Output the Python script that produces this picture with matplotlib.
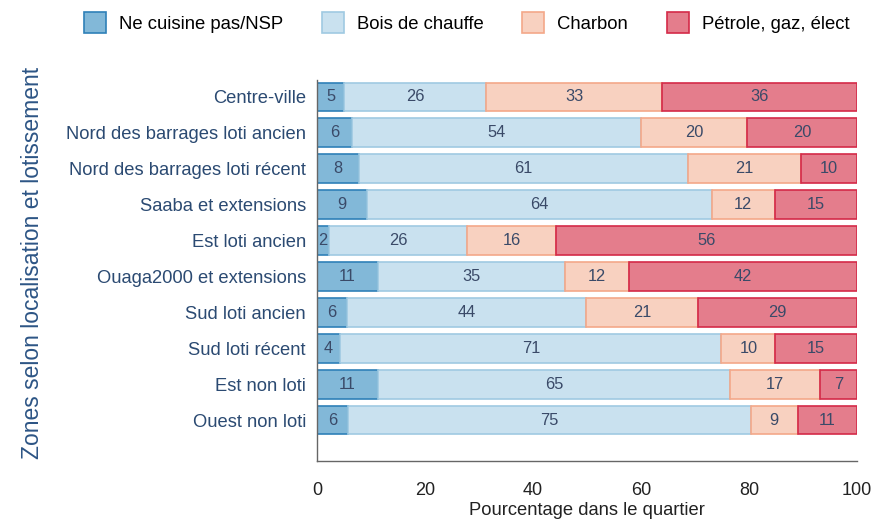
import matplotlib
matplotlib.use("Agg")
import matplotlib.pyplot as plt
import numpy as np
from matplotlib.patches import Patch

plt.rcParams['font.family'] = ['Liberation Sans', 'DejaVu Sans']

zones = ["Centre-ville", "Nord des barrages loti ancien", "Nord des barrages loti récent",
         "Saaba et extensions", "Est loti ancien", "Ouaga2000 et extensions",
         "Sud loti ancien", "Sud loti récent", "Est non loti", "Ouest non loti"]
series_names = ["Ne cuisine pas/NSP", "Bois de chauffe", "Charbon", "Pétrole, gaz, élect"]
ne_cuisine = [5.0, 6.4, 7.8, 9.3, 2.2, 11.3, 5.6, 4.3, 11.3, 5.7]
bois = [26.3, 53.6, 60.9, 63.8, 25.6, 34.6, 44.2, 70.6, 65.2, 74.6]
charbon = [32.6, 19.6, 21.0, 11.7, 16.4, 11.9, 20.8, 10.0, 16.6, 8.7]
petrole = [36.1, 20.4, 10.3, 15.2, 55.8, 42.2, 29.4, 15.1, 6.9, 11.0]
xticks = [0, 20, 40, 60, 80, 100]

faces = ["#82b8d8", "#c9e1ef", "#f8d1c0", "#e47d8c"]
edges = ["#2f80b8", "#9fcae2", "#f4a889", "#d42a48"]
txt_color = "#3a4a68"

fig = plt.figure(figsize=(8.72, 5.21), dpi=100)
ax = fig.add_axes([317/872, 1-461/521, 540/872, 381/521])

y = np.arange(len(zones))
left = np.zeros(len(zones))
for vals, name, fc, ec in zip([ne_cuisine, bois, charbon, petrole], series_names, faces, edges):
    vals = np.array(vals)
    ax.barh(y, vals, left=left, height=0.8, color=fc, edgecolor=ec, linewidth=1.2, label=name)
    for yi, l, v in zip(y, left, vals):
        ax.text(l + v/2, yi, f"{int(round(v))}", ha="center", va="center",
                fontsize=11.8, color=txt_color)
    left += vals

ax.set_xlim(0, 100)
ax.set_ylim(10.14, -0.47)
ax.set_yticks(y)
ax.set_yticklabels(zones, fontsize=13.2, color="#2b4a72")
ax.set_xticks(xticks)
ax.set_xticklabels([str(t) for t in xticks], fontsize=13, color="#222222")
ax.tick_params(axis="y", length=0, pad=8)
ax.tick_params(axis="x", length=0, pad=15)
for s in ["top", "right"]:
    ax.spines[s].set_visible(False)
for s in ["left", "bottom"]:
    ax.spines[s].set_color("#666666")
    ax.spines[s].set_linewidth(1.0)
ax.set_xlabel("Pourcentage dans le quartier", fontsize=13.2, color="#222222", labelpad=2)
ax.set_ylabel("Zones selon localisation et lotissement", fontsize=16.5, color="#2d5585")
ax.yaxis.set_label_coords(-0.505, 0.52)

handles = [Patch(facecolor=fc, edgecolor=ec, linewidth=1.2) for fc, ec in zip(faces, edges)]
fig.legend(handles, series_names, loc="upper center", bbox_to_anchor=(0.535, 1.008), ncol=4,
           frameon=False, fontsize=13.3, handlelength=1.2, handleheight=1.3,
           columnspacing=2.1, handletextpad=0.7)

fig.savefig("out.png", dpi=100)
